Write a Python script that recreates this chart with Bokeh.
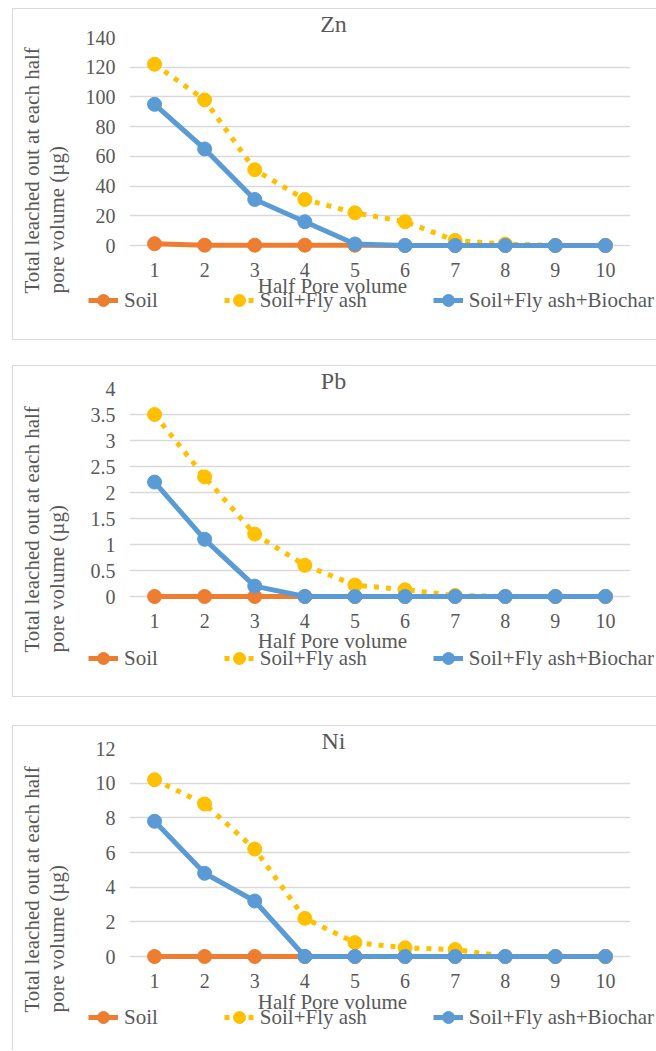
from bokeh.plotting import figure
from bokeh.models import (FactorRange, Range1d, FixedTicker, Legend, LegendItem, Label, Spacer)
from bokeh.layouts import column
from bokeh.embed import file_html
from bokeh.resources import INLINE

# ---------------- data ----------------
half_pore_volume = ["1", "2", "3", "4", "5", "6", "7", "8", "9", "10"]
series_names = ["Soil", "Soil+Fly ash", "Soil+Fly ash+Biochar"]

zn_soil = [1.2, 0.2, 0.2, 0.2, 0.2, 0, 0, 0, 0, 0]
zn_flyash = [122, 98, 51, 31, 22, 16, 3.4, 1, 0, 0]
zn_biochar = [95, 65, 31, 16, 1, 0, 0, 0, 0, 0]

pb_soil = [0, 0, 0, 0, 0, 0, 0, 0, 0, 0]
pb_flyash = [3.5, 2.3, 1.2, 0.6, 0.22, 0.13, 0.02, 0, 0, 0]
pb_biochar = [2.2, 1.1, 0.2, 0, 0, 0, 0, 0, 0, 0]

ni_soil = [0, 0, 0, 0, 0, 0, 0, 0, 0, 0]
ni_flyash = [10.2, 8.8, 6.2, 2.2, 0.8, 0.5, 0.4, 0, 0, 0]
ni_biochar = [7.8, 4.8, 3.2, 0, 0, 0, 0, 0, 0, 0]

zn_ticks = [0, 20, 40, 60, 80, 100, 120, 140]
zn_tick_labels = ["0", "20", "40", "60", "80", "100", "120", "140"]
pb_ticks = [0, 0.5, 1, 1.5, 2, 2.5, 3, 3.5, 4]
pb_tick_labels = ["0", "0.5", "1", "1.5", "2", "2.5", "3", "3.5", "4"]
ni_ticks = [0, 2, 4, 6, 8, 10, 12]
ni_tick_labels = ["0", "2", "4", "6", "8", "10", "12"]

x_title = "Half Pore volume"
y_title_1 = "Total leached out at each half"
y_title_2 = "pore volume  (\u00b5g)"

# ---------------- style ----------------
FONT = "Liberation Serif"
TXT = "#595959"
GRID = "#D9D9D9"
COLORS = ["#ED7D31", "#FFC000", "#5B9BD5"]
DASHES = ["solid", "5 7", "solid"]
LEFT = 49          # chart's left border (room for the tick labels)
CHART_X = 80       # page x of chart canvas -> plot area starts at x = 129
TEXT_X = -30       # page x of text layer canvas -> its frame starts at x = 19
LEG_X = 39         # page x of legend layer canvas -> its frame starts at x = 88


def draw_series(p, series):
    out = []
    for vals, color, dash in zip(series, COLORS, DASHES):
        lr = p.line(half_pore_volume, vals, line_color=color, line_width=5,
                    line_dash=dash)
        sr = p.scatter(half_pore_volume, vals, size=14, fill_color=color,
                       line_color=color, line_width=1)
        out.append([lr, sr])
    return out


def frame_box(h, margin_top, bottom_line):
    st = {"border-left": "1px solid #D9D9D9", "border-top": "1px solid #D9D9D9"}
    if bottom_line:
        st["border-bottom"] = "1px solid #D9D9D9"
    s = Spacer(width=644, height=h, styles=st)
    s.margin = (margin_top, 0, 0, 12)
    return s


def chart(series, ticks, tick_labels, height, top, margin_top):
    ymax = ticks[-1]
    frame_h = 216
    pad = ymax * 8 / 208.0
    p = figure(x_range=FactorRange(*half_pore_volume, range_padding=0),
               y_range=Range1d(-pad, ymax), width=LEFT + 501, height=height,
               output_backend="svg", toolbar_location=None,
               min_border_left=LEFT, min_border_right=0, min_border_top=top,
               min_border_bottom=height - top - frame_h)
    p.margin = (margin_top, 0, 0, CHART_X)
    p.outline_line_color = None
    p.background_fill_alpha = 0
    p.border_fill_alpha = 0

    p.xaxis.axis_line_color = None
    p.xaxis.major_tick_line_color = None
    p.xaxis.minor_tick_line_color = None
    p.xaxis.major_tick_out = 0
    p.xaxis.major_tick_in = 0
    p.xaxis.major_label_standoff = 9
    p.xaxis.major_label_text_font = FONT
    p.xaxis.major_label_text_font_size = "20px"
    p.xaxis.major_label_text_color = TXT

    p.yaxis.axis_line_color = None
    p.yaxis.major_tick_line_color = None
    p.yaxis.minor_tick_line_color = None
    p.yaxis.major_tick_out = 0
    p.yaxis.major_tick_in = 0
    p.yaxis.major_label_standoff = 14
    p.yaxis.ticker = FixedTicker(ticks=ticks)
    p.yaxis.major_label_overrides = {t: l for t, l in zip(ticks, tick_labels)}
    p.yaxis.major_label_text_font = FONT
    p.yaxis.major_label_text_font_size = "20px"
    p.yaxis.major_label_text_color = TXT

    p.xgrid.grid_line_color = None
    p.ygrid.ticker = FixedTicker(ticks=ticks)
    p.ygrid.grid_line_color = GRID
    p.ygrid.grid_line_width = 1.5

    draw_series(p, series)
    return p


def layer(height, margin_top, page_x, width):
    p = figure(x_range=FactorRange(*half_pore_volume, range_padding=0),
               y_range=Range1d(1e6, 1e6 + 1), width=width, height=height,
               output_backend="svg", toolbar_location=None,
               x_axis_location=None, y_axis_location=None,
               min_border_left=LEFT, min_border_right=0, min_border_top=0,
               min_border_bottom=0)
    p.margin = (margin_top, 0, 0, page_x)
    p.outline_line_color = None
    p.background_fill_alpha = 0
    p.border_fill_alpha = 0
    p.grid.visible = False
    return p


def text_layer(title, height, margin_top, title_y, xlab_y, ylab_y):
    p = layer(height, margin_top, TEXT_X, 656)
    x0 = TEXT_X + LEFT   # page x of this layer's frame

    def lab(text, x, y, size, align="center", angle=0.0):
        p.add_layout(Label(x=x - x0, y=y, x_units="screen", y_units="screen",
                           text=text, text_font=FONT, text_font_size=size,
                           text_color=TXT, text_align=align,
                           text_baseline="middle", angle=angle))

    lab(title, 333, title_y, "24px")
    lab(x_title, 332, xlab_y, "21px")
    lab(y_title_1, 31.4, ylab_y, "21px", align="left", angle=1.5707963)
    lab(y_title_2, 56.5, ylab_y, "21px", align="left", angle=1.5707963)
    return p


def legend_layer(series, height, margin_top, leg_y):
    p = layer(height, margin_top, LEG_X, 656 - LEG_X)
    rs = draw_series(p, series)   # outside the visible range: legend glyphs only
    items = [LegendItem(label=n, renderers=r) for n, r in zip(series_names, rs)]
    legend = Legend(items=items, orientation="horizontal", location=(0, leg_y),
                    padding=0, margin=0, spacing=66, glyph_width=30,
                    glyph_height=30, label_height=30, label_standoff=6,
                    label_text_font=FONT, label_text_font_size="21px",
                    label_text_color=TXT, border_line_color=None,
                    background_fill_alpha=0)
    p.add_layout(legend, "center")
    return p


zn_series = [zn_soil, zn_flyash, zn_biochar]
pb_series = [pb_soil, pb_flyash, pb_biochar]
ni_series = [ni_soil, ni_flyash, ni_biochar]

H1, H2, H3 = 330, 330, 324
items = [
    frame_box(H1 + 2, 8, True),
    chart(zn_series, zn_ticks, zn_tick_labels, H1, 28, -(H1 + 1)),
    text_layer("Zn", H1, -H1, 316, 54, 46),
    legend_layer(zn_series, H1, -H1, 24),
    frame_box(H2 + 2, 26, True),
    chart(pb_series, pb_ticks, pb_tick_labels, H2, 22, -(H2 + 1)),
    text_layer("Pb", H2, -H2, 316, 56, 44),
    legend_layer(pb_series, H2, -H2, 23),
    frame_box(H3 + 1, 29, False),
    chart(ni_series, ni_ticks, ni_tick_labels, H3, 22, -H3),
    text_layer("Ni", H3, -H3, 310, 49, 38),
    legend_layer(ni_series, H3, -H3, 18),
]

layout = column(*items, spacing=0)
open("out.html", "w").write(file_html(layout, INLINE))
